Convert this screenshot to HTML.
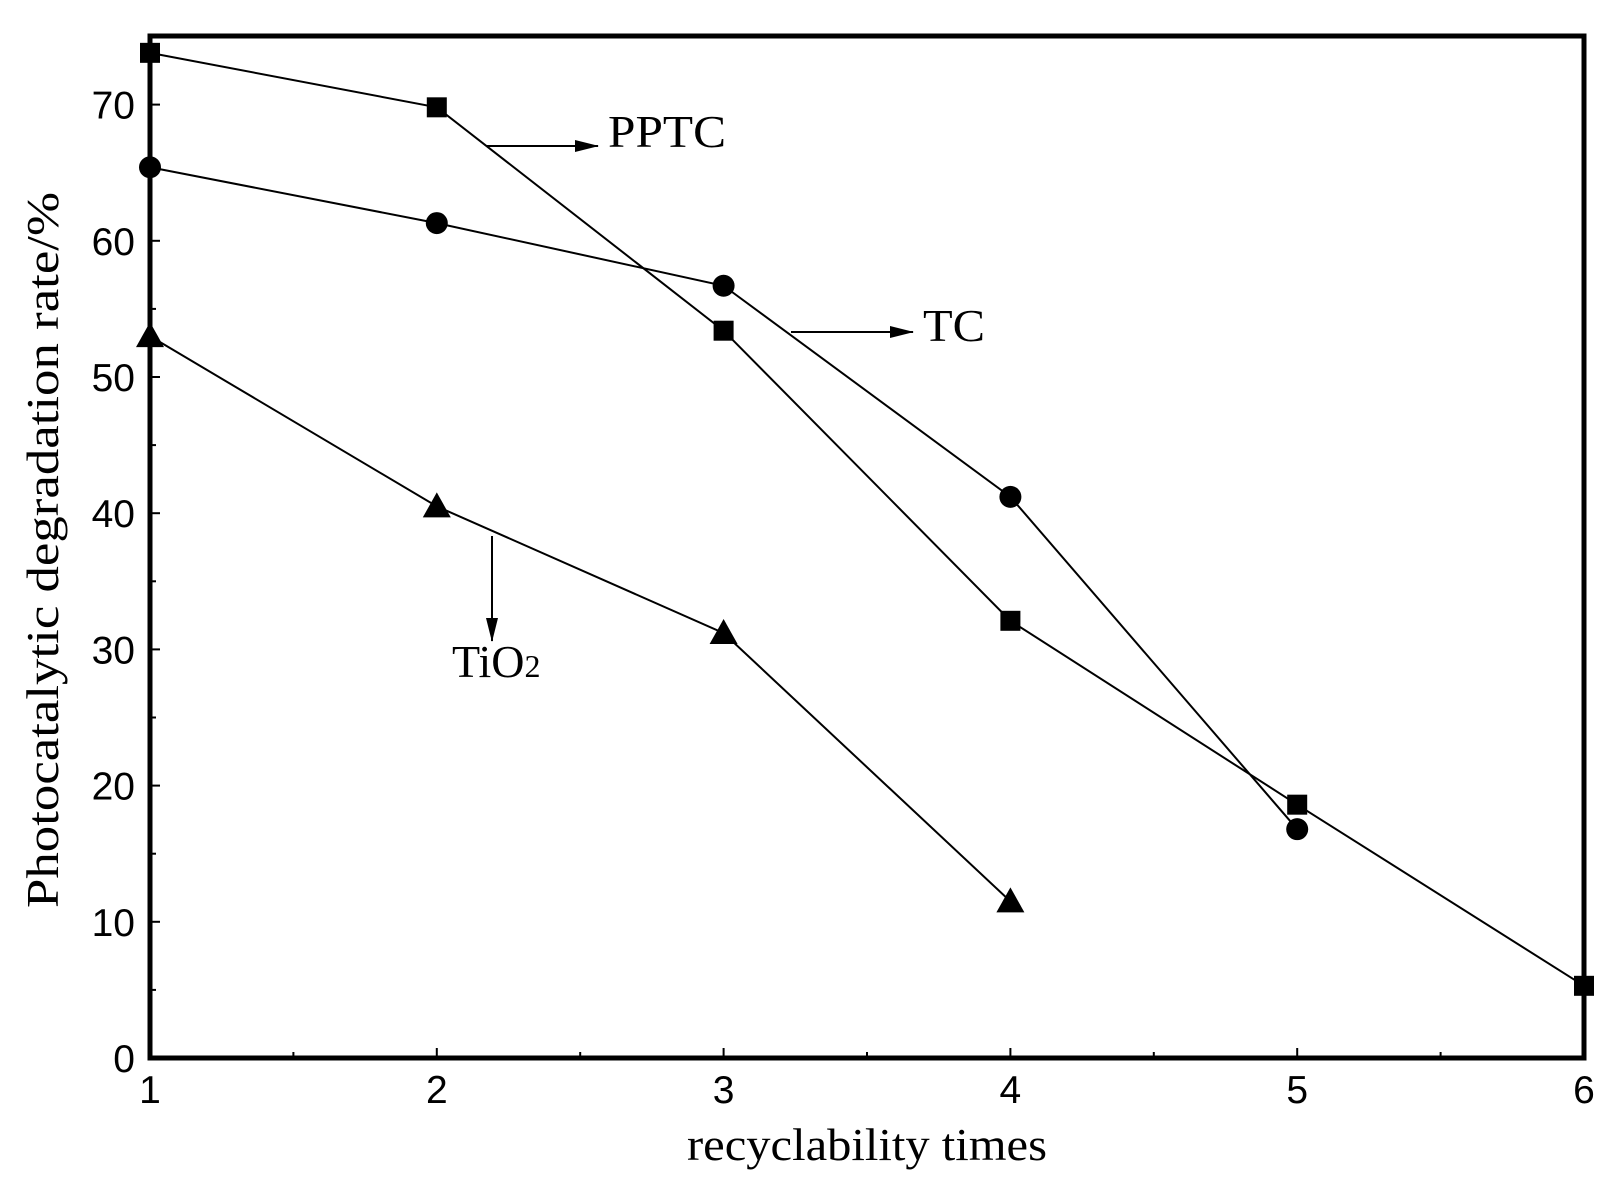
<!DOCTYPE html>
<html><head><meta charset="utf-8"><style>body{margin:0;background:#fff}svg{display:block}</style></head>
<body>
<svg width="1621" height="1190" viewBox="0 0 1621 1190" xmlns="http://www.w3.org/2000/svg">
<defs><marker id="ar2" markerWidth="24" markerHeight="12" refX="23" refY="6" orient="auto" markerUnits="userSpaceOnUse"><path d="M0,0 L24,6 L0,12 Z" fill="#000"/></marker></defs>
<g id="ticks" stroke="#000" stroke-width="2"></g>
<rect x="150" y="36" width="1434" height="1022" fill="none" stroke="#000" stroke-width="5"/>
<g font-family="Liberation Sans, sans-serif" font-size="39" text-anchor="end" id="yl"></g>
<g font-family="Liberation Sans, sans-serif" font-size="39" text-anchor="middle" id="xl"></g>
<g id="data" fill="#000" stroke="#000" stroke-width="2"></g>
<g font-family="Liberation Serif, serif" font-size="46" fill="#000">
<text x="687" y="1160" textLength="360" lengthAdjust="spacingAndGlyphs">recyclability times</text>
<text transform="translate(58,550) rotate(-90)" x="-358" y="0" textLength="716" lengthAdjust="spacingAndGlyphs">Photocatalytic degradation rate/%</text>
<text x="608" y="147" textLength="118" lengthAdjust="spacingAndGlyphs">PPTC</text>
<text x="923" y="341" textLength="62" lengthAdjust="spacingAndGlyphs">TC</text>
<text x="452" y="677">TiO<tspan font-size="32">2</tspan></text>
</g>
<g stroke="#000" stroke-width="2">
<line x1="486" y1="146" x2="598" y2="146" marker-end="url(#ar2)"/>
<line x1="791" y1="332" x2="913" y2="332" marker-end="url(#ar2)"/>
<line x1="492" y1="536" x2="492" y2="641" marker-end="url(#ar2)"/>
</g>
<script>
var ns="http://www.w3.org/2000/svg";
function X(v){return 150+(v-1)*286.8}function Y(v){return 1058-v*13.62}
function el(p,t,a,txt){var e=document.createElementNS(ns,t);for(var k in a)e.setAttribute(k,a[k]);if(txt!=null)e.textContent=txt;document.getElementById(p).appendChild(e);return e}
for(var v=5;v<75;v+=5){var maj=v%10==0;el("ticks","line",{x1:150,x2:150+(maj?10:6),y1:Y(v),y2:Y(v)});}
for(var v=0;v<=70;v+=10)el("yl","text",{x:135,y:Y(v)+14},v);
for(var i=1;i<=6;i++){el("xl","text",{x:X(i),y:1103},i);if(i<6){el("ticks","line",{x1:X(i+0.5),x2:X(i+0.5),y1:1058,y2:1052});if(i>1)el("ticks","line",{x1:X(i),x2:X(i),y1:1058,y2:1048});}}
var P=[73.8,69.8,53.4,32.1,18.6,5.3],T=[65.4,61.3,56.7,41.2,16.8],A=[53,40.5,31.2,11.5];
function line(d){el("data","polyline",{points:d.map(function(v,i){return X(i+1)+","+Y(v)}).join(" "),fill:"none"});}
line(P);line(T);line(A);
P.forEach(function(v,i){var x=X(i+1),y=Y(v);el("data","rect",{x:x-10,y:y-10,width:20,height:20,stroke:"none"})});
T.forEach(function(v,i){el("data","circle",{cx:X(i+1),cy:Y(v),r:11,stroke:"none"})});
A.forEach(function(v,i){var x=X(i+1),y=Y(v);el("data","polygon",{points:(x-14)+","+(y+11)+" "+(x+14)+","+(y+11)+" "+x+","+(y-14),stroke:"none"})});
</script>
</svg>
</body></html>
